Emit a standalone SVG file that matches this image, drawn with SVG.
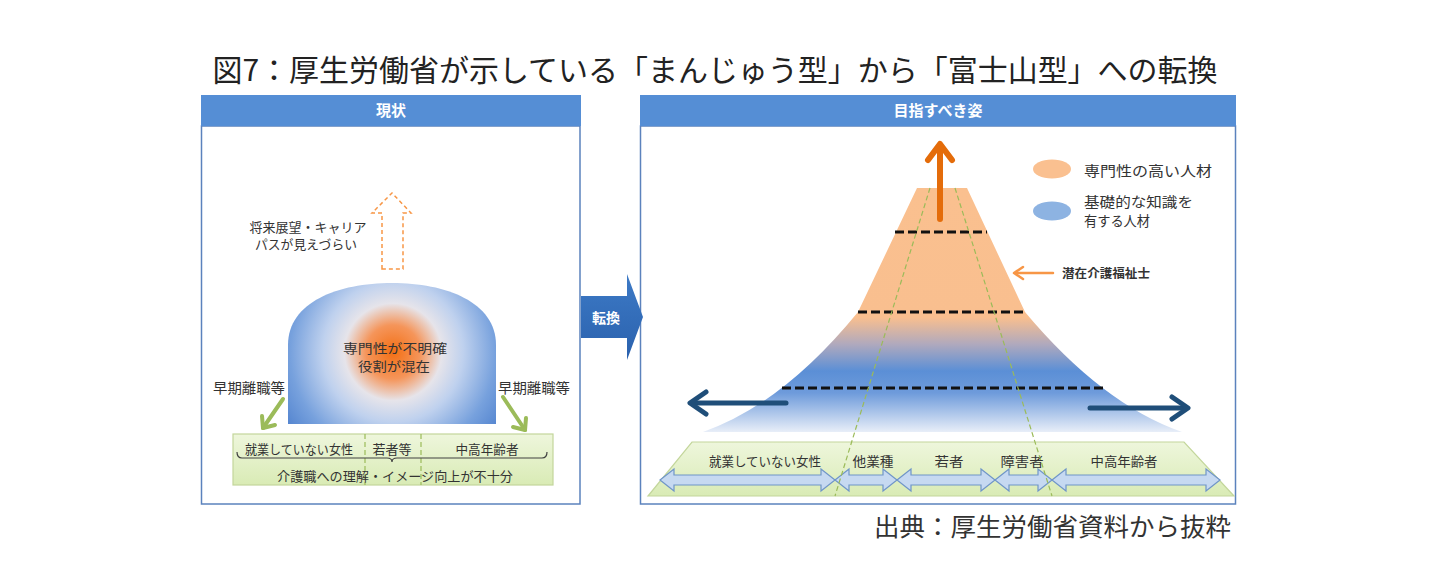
<svg xmlns="http://www.w3.org/2000/svg" width="1442" height="577" viewBox="0 0 1442 577">
<defs>
<style>
text{font-family:"Noto Sans CJK JP","Noto Sans",sans-serif;fill:#333;}
.title{font-size:30px;fill:#222;}
.src{font-size:25px;fill:#333;}
.hdr{font-size:15px;font-weight:bold;fill:#fff;}
.lbl{font-size:13px;}
.lbl14{font-size:14px;}
.hd{fill:#558ed5;}
.panel{fill:#fff;stroke:#5b82bd;stroke-width:1.5;}
.gbox{fill:url(#gg);stroke:#c3d69b;stroke-width:1.2;}
.gdash{stroke:#9bbb59;stroke-width:1.2;stroke-dasharray:5 3;fill:none;}
.bdash{stroke:#111;stroke-width:3;stroke-dasharray:9 4;fill:none;}
.dbl{fill:#c6d9f1;stroke:#6f95c8;stroke-width:1.2;}
.garr{stroke:#9bbb59;stroke-width:4;fill:none;stroke-linecap:round;stroke-linejoin:round;}
.barr{stroke:#1f4e79;stroke-width:5;fill:none;stroke-linecap:round;stroke-linejoin:round;}
</style>
<linearGradient id="gg" x1="0" y1="0" x2="0" y2="1">
<stop offset="0" stop-color="#eef6dc"/>
<stop offset="1" stop-color="#d9ebb5"/>
</linearGradient>
<radialGradient id="dome" gradientUnits="userSpaceOnUse" cx="393" cy="352" r="135">
<stop offset="0" stop-color="#f36f14"/>
<stop offset="0.2" stop-color="#f5955a"/>
<stop offset="0.36" stop-color="#e6e4ea"/>
<stop offset="0.52" stop-color="#bfd1ee"/>
<stop offset="0.76" stop-color="#77a1dd"/>
<stop offset="1" stop-color="#4a7dcc"/>
</radialGradient>
<linearGradient id="mtn" gradientUnits="userSpaceOnUse" x1="0" y1="188" x2="0" y2="432">
<stop offset="0" stop-color="#fac08f"/>
<stop offset="0.53" stop-color="#f9bf8f"/>
<stop offset="0.64" stop-color="#b0a9bd"/>
<stop offset="0.75" stop-color="#5b8fd6"/>
<stop offset="0.84" stop-color="#6e9bdb"/>
<stop offset="1" stop-color="#e8eef8"/>
</linearGradient>
<linearGradient id="tarr" x1="0" y1="0" x2="0" y2="1">
<stop offset="0" stop-color="#3d7ac6"/>
<stop offset="1" stop-color="#2a61ad"/>
</linearGradient>
</defs>

<text class="title" x="715" y="81" text-anchor="middle" textLength="1005" lengthAdjust="spacingAndGlyphs">図7：厚生労働省が示している「まんじゅう型」から「富士山型」への転換</text>

<g id="panel-left">
<rect class="panel" x="201.5" y="126" width="378.5" height="378"/>
<rect class="hd" x="201" y="95" width="380" height="31"/>
<text class="hdr" x="391" y="116" text-anchor="middle">現状</text>
</g>

<g id="panel-right">
<rect class="panel" x="640.5" y="126" width="595" height="378"/>
<rect class="hd" x="640" y="95" width="596" height="31"/>
<text class="hdr" x="938" y="116" text-anchor="middle">目指すべき姿</text>
</g>

<g id="transform-arrow">
<path d="M581,296 L627,296 L627,274 L643,317 L627,360 L627,338 L581,338 Z" fill="url(#tarr)"/>
<text class="hdr" x="606" y="323" text-anchor="middle" style="font-size:14px">転換</text>
</g>

<g id="career-arrow">
<path d="M382,269 L382,213 L372,213 L392,193 L411,213 L403,213 L403,269 Z" fill="#fff" stroke="#f79646" stroke-width="1.5" stroke-dasharray="4 3"/>
<text class="lbl" x="308" y="232" text-anchor="middle" textLength="117" lengthAdjust="spacingAndGlyphs">将来展望・キャリア</text>
<text class="lbl" x="306" y="249" text-anchor="middle" textLength="102" lengthAdjust="spacingAndGlyphs">パスが見えづらい</text>
</g>

<g id="dome">
<path d="M288,424 L288,345 C288,302 338,283 392,283 C446,283 496,302 496,345 L496,424 Z" fill="url(#dome)"/>
<text class="lbl" x="395" y="353" text-anchor="middle" textLength="104" lengthAdjust="spacingAndGlyphs">専門性が不明確</text>
<text class="lbl" x="394" y="371" text-anchor="middle" textLength="72" lengthAdjust="spacingAndGlyphs">役割が混在</text>
</g>

<g id="early-leave-left">
<text class="lbl14" x="249" y="393" text-anchor="middle" textLength="72" lengthAdjust="spacingAndGlyphs">早期離職等</text>
<polyline class="garr" points="283,399 263,428"/>
<polyline class="garr" points="262,416 263,428 275,425"/>
</g>
<g id="early-leave-right">
<text class="lbl14" x="534" y="393" text-anchor="middle" textLength="72" lengthAdjust="spacingAndGlyphs">早期離職等</text>
<polyline class="garr" points="503,397 525,430"/>
<polyline class="garr" points="526,418 525,430 513,427"/>
</g>

<g id="left-groups">
<rect class="gbox" x="233" y="434" width="320" height="51"/>
<line class="gdash" x1="365" y1="434" x2="365" y2="485"/>
<line class="gdash" x1="421" y1="434" x2="421" y2="485"/>
<text class="lbl" x="299" y="454" text-anchor="middle" textLength="108" lengthAdjust="spacingAndGlyphs">就業していない女性</text>
<text class="lbl" x="392" y="454" text-anchor="middle" textLength="39" lengthAdjust="spacingAndGlyphs">若者等</text>
<text class="lbl" x="487" y="454" text-anchor="middle" textLength="63" lengthAdjust="spacingAndGlyphs">中高年齢者</text>
<path d="M237,452 Q237,458 242,458 L387,458 Q392,458 392,462 Q392,458 397,458 L542,458 Q547,458 547,452" fill="none" stroke="#404040" stroke-width="1.2"/>
<text class="lbl" x="395" y="481" text-anchor="middle" textLength="236" lengthAdjust="spacingAndGlyphs">介護職への理解・イメージ向上が不十分</text>
</g>

<g id="mountain">
<path d="M917,188 L967,188 L1025,312 Q1102,404 1182,432 L703,432 Q783,404 858,312 Z" fill="url(#mtn)"/>
<line class="bdash" x1="895" y1="232" x2="987" y2="232"/>
<line class="bdash" x1="858" y1="312" x2="1026" y2="312"/>
<line class="bdash" x1="782" y1="388" x2="1103" y2="388"/>
</g>

<g id="right-groups">
<path class="gbox" d="M692,442 L1184,442 L1234,496 L648,496 Z"/>
<path class="dbl" d="M660,480 L674,469 L674,475 L821,475 L821,469 L835,480 L821,491 L821,485 L674,485 L674,491 Z"/>
<path class="dbl" d="M835,480 L849,469 L849,475 L883,475 L883,469 L897,480 L883,491 L883,485 L849,485 L849,491 Z"/>
<path class="dbl" d="M897,480 L911,469 L911,475 L981,475 L981,469 L995,480 L981,491 L981,485 L911,485 L911,491 Z"/>
<path class="dbl" d="M995,480 L1009,469 L1009,475 L1038,475 L1038,469 L1052,480 L1038,491 L1038,485 L1009,485 L1009,491 Z"/>
<path class="dbl" d="M1052,480 L1066,469 L1066,475 L1206,475 L1206,469 L1220,480 L1206,491 L1206,485 L1066,485 L1066,491 Z"/>
<text class="lbl" x="765" y="466" text-anchor="middle" textLength="112" lengthAdjust="spacingAndGlyphs">就業していない女性</text>
<text class="lbl" x="873" y="466" text-anchor="middle" textLength="41" lengthAdjust="spacingAndGlyphs">他業種</text>
<text class="lbl" x="949" y="466" text-anchor="middle" textLength="29" lengthAdjust="spacingAndGlyphs">若者</text>
<text class="lbl" x="1022" y="466" text-anchor="middle" textLength="43" lengthAdjust="spacingAndGlyphs">障害者</text>
<text class="lbl" x="1124" y="466" text-anchor="middle" textLength="67" lengthAdjust="spacingAndGlyphs">中高年齢者</text>
</g>

<g id="connectors">
<line class="gdash" x1="930" y1="188" x2="835" y2="496"/>
<line class="gdash" x1="955" y1="188" x2="1052" y2="496"/>
<polyline points="940,219 940,146" fill="none" stroke="#e46c0a" stroke-width="6" stroke-linecap="round"/>
<polyline points="928,160 940,144 952,160" fill="none" stroke="#e46c0a" stroke-width="6" stroke-linecap="round" stroke-linejoin="round"/>
<polyline class="barr" points="786,403 692,403"/>
<polyline class="barr" points="706,392 690,403 706,414"/>
<polyline class="barr" points="1090,408 1186,408"/>
<polyline class="barr" points="1172,397 1188,408 1172,419"/>
<line x1="1053" y1="273" x2="1016" y2="273" stroke="#f79646" stroke-width="2.5" stroke-linecap="round"/>
<polyline points="1023,267 1014,273 1023,279" fill="none" stroke="#f79646" stroke-width="2.5" stroke-linecap="round" stroke-linejoin="round"/>
</g>

<g id="legend">
<ellipse cx="1052" cy="169" rx="19" ry="9.5" fill="#fac090"/>
<text class="lbl14" x="1084" y="176" textLength="128" lengthAdjust="spacingAndGlyphs">専門性の高い人材</text>
<ellipse cx="1052" cy="211" rx="19" ry="9.5" fill="#8db3e2"/>
<text class="lbl14" x="1084" y="207" textLength="109" lengthAdjust="spacingAndGlyphs">基礎的な知識を</text>
<text class="lbl14" x="1084" y="226" textLength="66" lengthAdjust="spacingAndGlyphs">有する人材</text>
</g>

<g id="potential">
<text x="1062" y="278" style="font-size:12px;font-weight:bold" textLength="88" lengthAdjust="spacingAndGlyphs">潜在介護福祉士</text>
</g>

<text class="src" x="1231" y="536" text-anchor="end" textLength="357" lengthAdjust="spacingAndGlyphs">出典：厚生労働省資料から抜粋</text>
</svg>
